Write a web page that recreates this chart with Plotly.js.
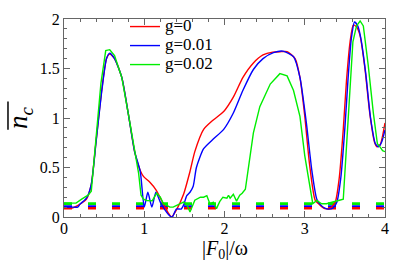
<!DOCTYPE html>
<html>
<head>
<meta charset="utf-8">
<script src="https://cdn.plot.ly/plotly-3.0.1.min.js"></script>
<style>
html,body{margin:0;padding:0;background:#fff;}
#chart{width:408px;height:273px;}
</style>
</head>
<body>
<div id="chart"></div>
<script>
// ---- data ----
const seriesNames = ['g=0', 'g=0.01', 'g=0.02'];

const xG0 = [0, 0.1, 0.2, 0.28, 0.34, 0.4, 0.47, 0.53, 0.57, 0.63, 0.72, 0.8, 0.88, 0.95, 0.99, 1.07, 1.15, 1.24, 1.3, 1.34, 1.4, 1.49, 1.57, 1.63, 1.74, 1.86, 1.99, 2.11, 2.23, 2.36, 2.48, 2.6, 2.7, 2.78, 2.88, 2.94, 3.0, 3.06, 3.13, 3.19, 3.25, 3.31, 3.38, 3.43, 3.48, 3.52, 3.565, 3.605, 3.645, 3.69, 3.75, 3.81, 3.87, 3.9, 3.94, 4.0];
const yG0 = [0.09, 0.09, 0.13, 0.18, 0.33, 0.77, 1.28, 1.6, 1.645, 1.6, 1.41, 1.05, 0.66, 0.47, 0.41, 0.35, 0.27, 0.13, 0.04, 0.0, 0.07, 0.23, 0.46, 0.66, 0.885, 0.98, 1.065, 1.21, 1.41, 1.556, 1.637, 1.665, 1.67, 1.67, 1.6, 1.41, 1.02, 0.53, 0.17, 0.12, 0.085, 0.085, 0.15, 0.395, 0.885, 1.375, 1.77, 1.94, 1.92, 1.83, 1.5, 1.05, 0.755, 0.71, 0.73, 0.95];

const xG1 = [0, 0.1, 0.17, 0.2, 0.28, 0.34, 0.4, 0.47, 0.53, 0.57, 0.63, 0.72, 0.8, 0.88, 0.95, 1.0, 1.045, 1.095, 1.145, 1.2, 1.26, 1.32, 1.35, 1.4, 1.46, 1.49, 1.53, 1.57, 1.61, 1.65, 1.74, 1.86, 1.99, 2.11, 2.23, 2.36, 2.48, 2.61, 2.73, 2.86, 2.94, 3.02, 3.09, 3.15, 3.2, 3.25, 3.3, 3.35, 3.4, 3.45, 3.5, 3.54, 3.58, 3.62, 3.66, 3.7, 3.76, 3.82, 3.88, 3.92, 3.96, 4.0];
const yG1 = [0.1, 0.1, 0.1, 0.13, 0.19, 0.33, 0.76, 1.27, 1.6, 1.655, 1.6, 1.41, 1.05, 0.66, 0.46, 0.1, 0.25, 0.1, 0.25, 0.15, 0.07, 0.01, 0.0, 0.08, 0.08, 0.12, 0.215, 0.25, 0.31, 0.5, 0.69, 0.787, 0.885, 1.05, 1.28, 1.49, 1.6, 1.66, 1.675, 1.62, 1.41, 0.95, 0.46, 0.18, 0.12, 0.09, 0.08, 0.09, 0.15, 0.4, 0.9, 1.4, 1.8, 1.97, 1.93, 1.8, 1.45, 1.0, 0.74, 0.71, 0.76, 0.88];

const xG2 = [0, 0.15, 0.22, 0.3, 0.34, 0.4, 0.46, 0.52, 0.57, 0.63, 0.72, 0.8, 0.885, 0.93, 0.96, 0.99, 1.03, 1.1, 1.155, 1.2, 1.24, 1.32, 1.36, 1.445, 1.49, 1.53, 1.57, 1.63, 1.7, 1.74, 1.78, 1.82, 1.86, 1.9, 1.94, 1.98, 2.03, 2.05, 2.07, 2.11, 2.15, 2.19, 2.22, 2.26, 2.3, 2.36, 2.44, 2.57, 2.69, 2.78, 2.86, 2.94, 3.0, 3.06, 3.1, 3.15, 3.21, 3.27, 3.36, 3.42, 3.48, 3.52, 3.565, 3.6, 3.645, 3.69, 3.73, 3.79, 3.855, 3.905, 3.94, 3.97, 4.0];
const yG2 = [0.14, 0.14, 0.18, 0.22, 0.26, 0.8, 1.35, 1.68, 1.69, 1.63, 1.41, 1.05, 0.66, 0.44, 0.22, 0.18, 0.167, 0.165, 0.24, 0.2, 0.134, 0.1, 0.1, 0.134, 0.15, 0.13, 0.05, 0.17, 0.2, 0.2, 0.215, 0.13, 0.15, 0.085, 0.155, 0.2, 0.19, 0.22, 0.19, 0.23, 0.16, 0.22, 0.24, 0.28, 0.53, 0.85, 1.115, 1.343, 1.448, 1.425, 1.278, 1.017, 0.62, 0.3, 0.134, 0.167, 0.134, 0.134, 0.15, 0.167, 0.18, 0.72, 1.31, 1.77, 1.93, 1.98, 1.93, 1.54, 1.05, 0.74, 0.706, 0.67, 0.66];

// long-time average levels (dashed)
const levelX = [0, 4];
const levelG0 = 0.088;
const levelG1 = 0.105;
const levelG2 = 0.135;

const xTickVals = [0, 1, 2, 3, 4];
const yTickVals = [0, 0.5, 1, 1.5, 2];

// ---- styling ----
const colors = ['#ff0000', '#0000ff', '#00ee00'];
const serif = 'Liberation Serif, Times New Roman, serif';

function curve(x, y, i, shape) {
  return {x: x, y: y, type: 'scatter', mode: 'lines', name: '<span style="font-size:17px">' + seriesNames[i] + '</span>',
    line: {color: colors[i], width: 1.4, shape: shape, smoothing: 0.6}, showlegend: true};
}
function level(v, i) {
  return {x: levelX, y: [v, v], type: 'scatter', mode: 'lines', showlegend: false, hoverinfo: 'skip',
    line: {color: colors[i], width: 2.6, dash: '8px,16px'}};
}

const data = [
  level(levelG2, 2), level(levelG1, 1), level(levelG0, 0),
  curve(xG0, yG0, 0, 'spline'),
  curve(xG1, yG1, 1, 'spline'),
  curve(xG2, yG2, 2, 'linear')
];

const axisCommon = {
  showgrid: false, zeroline: false, showline: true, linecolor: '#666', linewidth: 1,
  mirror: 'allticks', ticks: 'inside', ticklen: 6, tickcolor: '#666', tickwidth: 1,
  tickfont: {family: serif, size: 16, color: '#000'}
};

const layout = {
  width: 408, height: 273,
  margin: {l: 64, r: 23, t: 13, b: 56},
  paper_bgcolor: '#fff', plot_bgcolor: '#fff',
  font: {family: serif, size: 16},
  showlegend: true,
  legend: {x: 0.19, y: 1.035, xanchor: 'left', yanchor: 'top', bgcolor: 'rgba(0,0,0,0)',
    font: {family: serif, size: 12, color: '#000'}, itemwidth: 30, tracegroupgap: 0},
  xaxis: Object.assign({}, axisCommon, {
    range: [0, 4], tickvals: xTickVals, ticktext: xTickVals.map(String), ticklabelstandoff: -3,
    minor: {dtick: 0.2, ticks: 'inside', ticklen: 3, tickcolor: '#666', showgrid: false}
  }),
  yaxis: Object.assign({}, axisCommon, {
    range: [0, 2], tickvals: yTickVals, ticktext: yTickVals.map(String),
    minor: {dtick: 0.1, ticks: 'inside', ticklen: 3, tickcolor: '#666', showgrid: false}
  }),
  annotations: [{
    xref: 'paper', yref: 'paper', x: -0.137, y: 0.5, xanchor: 'center', yanchor: 'middle',
    text: '<i>n</i><sub><i>c</i></sub>', textangle: -90, showarrow: false,
    font: {family: serif, size: 27, color: '#000'}
  }, {
    xref: 'paper', yref: 'paper', x: 0.5, y: -0.165, xanchor: 'center', yanchor: 'middle',
    text: '|<i>F</i><sub>0</sub>|/ω', showarrow: false,
    font: {family: serif, size: 20, color: '#000'}
  }],
  shapes: [{
    type: 'line', xref: 'paper', yref: 'paper', x0: -0.1745, x1: -0.1745, y0: 0.441, y1: 0.583,
    line: {color: '#000', width: 1.5}
  }]
};

Plotly.newPlot('chart', data, layout, {staticPlot: true, displayModeBar: false});
</script>
</body>
</html>
